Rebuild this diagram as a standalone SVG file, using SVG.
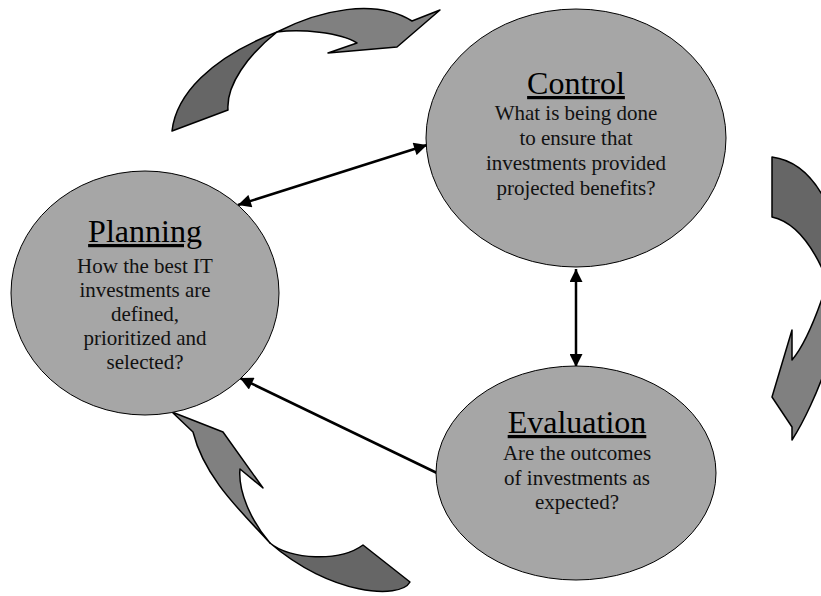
<svg xmlns="http://www.w3.org/2000/svg" width="821" height="596" viewBox="0 0 821 596">
<defs>
<marker id="ah" viewBox="0 0 10 10" refX="10" refY="5" markerUnits="userSpaceOnUse" markerWidth="15" markerHeight="13" orient="auto-start-reverse">
<path d="M0,0 L10,5 L0,10 Z" fill="#000"/>
</marker>
</defs>
<style>
.node ellipse{fill:#a6a6a6;stroke:#000;stroke-width:1}
.title{font-family:"Liberation Serif","Times New Roman",serif;font-size:32px;text-anchor:middle;text-decoration:underline;fill:#000}
.body{font-family:"Liberation Serif","Times New Roman",serif;font-size:21px;text-anchor:middle;fill:#111}
.dark{fill:#666;stroke:#000;stroke-width:1.5;stroke-linejoin:round}
.light{fill:#808080;stroke:#000;stroke-width:1.5;stroke-linejoin:round}
.conn line{stroke:#000;stroke-width:2.5}
</style>
<rect width="821" height="596" fill="#fff"/>
<g id="cycle-arrows">
<g id="arrow-top">
<path class="dark" d="M172,131 C176,95 210,58 277,32 C248,55 226,85 228,110 Z"/>
<path class="light" d="M277,32 C320,10 375,-2 412,21 L440,10 L397,47 L328,53 L357,43 C340,32 300,29 277,32 Z"/>
</g>
<g id="arrow-right">
<path class="dark" d="M772,157 C795,160 812,175 825,200 L825,275 C812,245 795,222 772,217 Z"/>
<path class="light" d="M825,290 C815,320 805,345 792,360 L792,330 L772,397 L792,427 L792,440 C805,420 818,390 825,370 Z"/>
</g>
<g id="arrow-bottom">
<path class="light" d="M172,412 L223,432 L263,488 L240,469 C238,490 250,520 270,543 C245,515 205,480 193,432 Z"/>
<path class="dark" d="M270,543 C290,560 340,562 363,545 L410,582 C400,600 330,595 270,543 Z"/>
</g>
</g>
<g id="connectors" class="conn">
<line x1="238" y1="205" x2="427" y2="145" marker-start="url(#ah)" marker-end="url(#ah)"/>
<line x1="576" y1="269" x2="576" y2="367" marker-start="url(#ah)" marker-end="url(#ah)"/>
<line x1="437" y1="473" x2="240" y2="378" marker-end="url(#ah)"/>
</g>
<g id="planning" class="node">
<ellipse cx="145" cy="293" rx="134" ry="122"/>
<text class="title" x="145" y="242">Planning</text>
<text class="body" x="145" y="273">How the best IT</text>
<text class="body" x="145" y="297">investments are</text>
<text class="body" x="145" y="321">defined,</text>
<text class="body" x="145" y="345">prioritized and</text>
<text class="body" x="145" y="369">selected?</text>
</g>
<g id="control" class="node">
<ellipse cx="576" cy="138" rx="150" ry="129"/>
<text class="title" x="576" y="94">Control</text>
<text class="body" x="576" y="120">What is being done</text>
<text class="body" x="576" y="145">to ensure that</text>
<text class="body" x="576" y="170">investments provided</text>
<text class="body" x="576" y="195">projected benefits?</text>
</g>
<g id="evaluation" class="node">
<ellipse cx="576" cy="473" rx="140" ry="107"/>
<text class="title" x="577" y="433">Evaluation</text>
<text class="body" x="577" y="460">Are the outcomes</text>
<text class="body" x="577" y="485">of investments as</text>
<text class="body" x="577" y="509">expected?</text>
</g>
</svg>
